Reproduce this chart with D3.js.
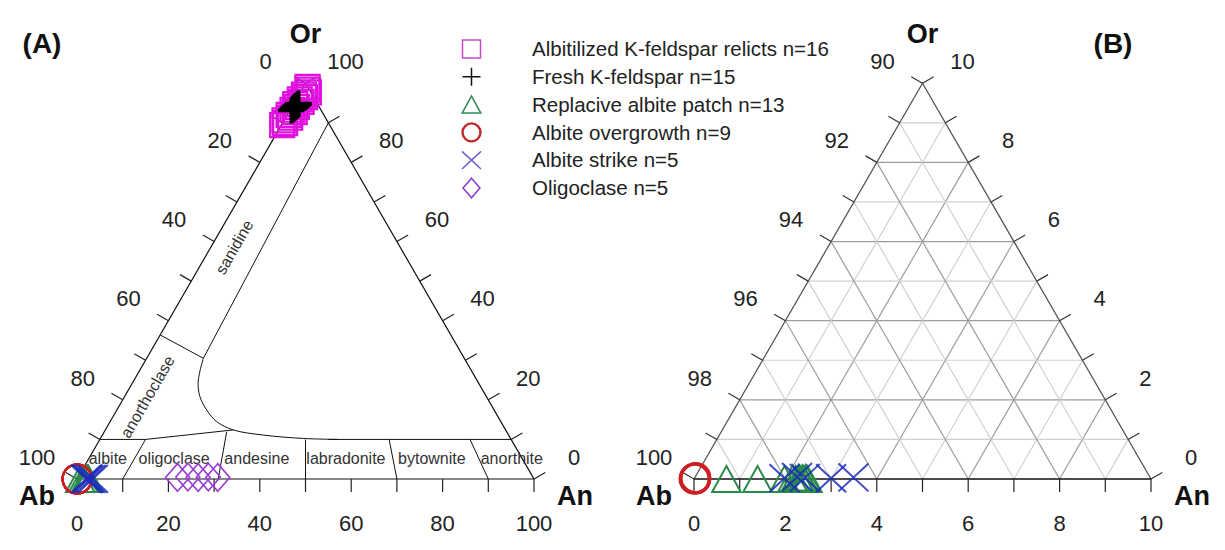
<!DOCTYPE html>
<html><head><meta charset="utf-8">
<script src="https://cdn.jsdelivr.net/npm/d3@7"></script>
<style>
body{margin:0;background:#fff}
svg{display:block}
text{font-family:"Liberation Sans",Arial,Helvetica,sans-serif}
</style>
</head><body>
<svg id="chart" width="1225" height="550"></svg>
<script>
// ---------------- DATA (ternary coordinates: [An, Or], Ab = 100 - An - Or) ----------------
const categories = [
  "Albitilized K-feldspar relicts n=16",
  "Fresh K-feldspar n=15",
  "Replacive albite patch n=13",
  "Albite overgrowth n=9",
  "Albite strike n=5",
  "Oligoclase n=5"
];
const kfsRelicts = [[0.2,89.4],[0.6,89.9],[0.1,90.6],[1.0,91.3],[0.3,92.0],[1.3,92.7],[0.5,93.3],[1.1,94.0],[0.4,94.7],[1.5,95.3],[0.8,95.9],[1.7,96.5],[1.1,97.1],[1.9,97.7],[1.3,98.4],[0.9,99.1]];
const freshKfs = [[0.3,93.1],[0.5,93.3],[0.4,93.5],[0.7,93.6],[0.5,93.8],[0.8,93.9],[0.6,94.0],[0.9,94.1],[0.7,94.2],[1.0,94.3],[0.8,94.4],[1.1,94.5],[0.9,94.6],[1.2,94.7],[1.0,94.9]];
const replaciveAlbite = [[0.71,0.0],[1.39,0.0],[1.98,0.0],[2.15,0.02],[2.22,0.0],[2.28,0.03],[2.32,0.0],[2.36,0.02],[2.40,0.0],[2.43,0.03],[2.46,0.0],[2.30,0.01],[2.48,0.0]];
const albiteOvergrowth = [[0.01,0.01],[0.02,0.0],[0.0,0.02],[0.03,0.01],[0.01,0.03],[0.02,0.02],[0.0,0.0],[0.04,0.0],[0.02,0.04]];
const albiteStrike = [[1.97,0.02],[2.23,0.05],[2.41,0.03],[2.99,0.02],[3.47,0.04]];
const oligoclase = [[21.8,0.4],[24.0,0.5],[26.3,0.4],[28.5,0.5],[30.6,0.4]];

const tickLabelsA = [0,20,40,60,80,100];
const leftTickLabelsA = [100,80,60,40,20,0];
const tickLabelsB = [0,2,4,6,8,10];
const leftTickLabelsB = [100,98,96,94,92,90];

// feldspar classification fields (panel A), ternary [An, Or]
const bandUpper = [[0,10],[10,10],[28,12.4]];
const bandRight = [[50,10],[90,10]];
const solvus = [[52,10],[44.4,10.25],[35.2,11.1],[28,12.4],[23.3,14.5],[19.7,17.4],[16.5,20.8],[14.4,24.2],[13.2,27.5],[12.4,30.5]];
const sanidineLine = [[12.4,30.5],[10,90]];
const sanAnorthLine = [[0,36.4],[12.4,30.5]];
const plagDividers = [[[10,0],[10,10]],[[30.9,0],[26.8,11.9]],[[50,0],[45,10]],[[70,0],[63.3,10]],[[90,0],[81,10]]];
const plagNames = ["albite","oligoclase","andesine","labradonite","bytownite","anorthite"];
const plagNameAn = [4.1,18.6,36.7,56.2,75.0,92.5];
const plagNameOr = [5.3,5.3,5.3,5.3,5.3,5.3];
const alkaliNames = ["sanidine","anorthoclase"];
const alkaliNameAn = [5.1,5.0];
const alkaliNameOr = [58.6,20.8];

// ---------------- LAYOUT ----------------
const svg = d3.select("#chart");
svg.append("rect").attr("width",1225).attr("height",550).attr("fill","#fff");
const S = Math.sqrt(3)/2;
const SIDE = 457, BASE_Y = 479;

function makePanel(x0, span){
  const sx = d3.scaleLinear().domain([0, span]).range([x0, x0 + SIDE]);
  const sy = d3.scaleLinear().domain([0, span*S]).range([BASE_Y, BASE_Y - SIDE*S]);
  return {span, sx, sy, p:(an,or)=>[sx(an + or/2), sy(or*S)]};
}
const PA = makePanel(77, 100);
const PB = makePanel(694, 10);

const line = d3.line();
const smooth = d3.line().curve(d3.curveCatmullRom.alpha(0.5));

function drawPath(g, pts, P, stroke, w, gen){
  g.append("path").attr("d",(gen||line)(pts.map(d=>P.p(d[0],d[1]))))
   .attr("fill","none").attr("stroke",stroke).attr("stroke-width",w);
}

// ---------------- MARKERS ----------------
const markerPath = {
  square: s=>`M${-s},${-s}H${s}V${s}H${-s}Z`,
  plus: s=>`M${-s},0H${s}M0,${-s}V${s}`,
  triangle: s=>`M0,${-s}L${s*1.1},${s}L${-s*1.1},${s}Z`,
  circle: s=>`M${s},0A${s},${s},0,1,1,${-s},0A${s},${s},0,1,1,${s},0Z`,
  times: s=>`M${-s},${-s*0.93}L${s},${s*0.93}M${s},${-s*0.93}L${-s},${s*0.93}`,
  diamond: s=>`M0,${-s*1.15}L${s},0L0,${s*1.15}L${-s},0Z`
};
const seriesList = [
  {data:kfsRelicts, shape:"square", size:12, color:"#e010e0", lcolor:"#c84ac8", w:2.2},
  {data:freshKfs, shape:"plus", size:13, color:"#000000", lcolor:"#111111", w:3.2},
  {data:replaciveAlbite, shape:"triangle", size:13, color:"#2a8a4a", lcolor:"#2e8b57", w:2},
  {data:albiteOvergrowth, shape:"circle", size:14.5, color:"#cc1f24", lcolor:"#c0282d", w:2},
  {data:albiteStrike, shape:"times", size:15, color:"#1c2cbc", lcolor:"#6a62c8", w:2},
  {data:oligoclase, shape:"diamond", size:12, color:"#9a3ad6", lcolor:"#8a3ad0", w:1.6}
];

function drawMarkers(g, P){
  seriesList.forEach(s=>{
    const pts = s.data.filter(d=>d[0]+d[1] <= P.span + 1e-9);
    g.append("g").selectAll("path").data(pts).join("path")
      .attr("transform",d=>{const q=P.p(d[0],d[1]);return `translate(${q[0]},${q[1]})`;})
      .attr("d",markerPath[s.shape](s.size))
      .attr("fill","none").attr("stroke",s.color).attr("stroke-width",s.w)
      .attr("stroke-opacity", s.shape==="times"?0.85:1);
  });
}

// ---------------- AXES / TICKS ----------------
const TL = 13;
function drawAxes(g, P, bottomLabels, leftLabels, rightLabels, edgeColor){
  const span = P.span, step = span/10;
  const vals = d3.range(0, span + step/2, step).map(v=>+v.toFixed(6));
  const tg = g.append("g").attr("stroke","#222").attr("stroke-width",1.2);
  const lg = g.append("g").attr("font-size",22).attr("fill","#222").attr("text-anchor","middle");
  vals.forEach(v=>{
    let q = P.p(v,0);
    tg.append("line").attr("x1",q[0]).attr("y1",q[1]).attr("x2",q[0]).attr("y2",q[1]+TL);
    if(bottomLabels.includes(Math.round(v*1000)/1000))
      lg.append("text").attr("x",q[0]).attr("y",q[1]+44).attr("dy","0.35em").text(v);
    q = P.p(0,v);
    tg.append("line").attr("x1",q[0]).attr("y1",q[1]).attr("x2",q[0]-TL*S).attr("y2",q[1]-TL*0.5).attr("stroke",edgeColor);
    const ab = Math.round((100 - v)*1000)/1000;
    if(leftLabels.includes(ab))
      lg.append("text").attr("x",q[0]-40).attr("y",q[1]-22).attr("dy","0.35em").text(ab);
    q = P.p(span - v, v);
    tg.append("line").attr("x1",q[0]).attr("y1",q[1]).attr("x2",q[0]+TL*S).attr("y2",q[1]-TL*0.5).attr("stroke",edgeColor);
    if(rightLabels.includes(Math.round(v*1000)/1000))
      lg.append("text").attr("x",q[0]+40).attr("y",q[1]-22).attr("dy","0.35em").text(v);
  });
}

function drawTitles(g, P, tag, tagX){
  const apex = P.p(0, P.span), ab = P.p(0,0), an = P.p(P.span,0);
  const t = g.append("g").attr("font-weight","bold").attr("fill","#111").attr("text-anchor","middle");
  t.append("text").attr("x",apex[0]).attr("y",34).attr("dy","0.35em").attr("font-size",27).text("Or");
  t.append("text").attr("x",ab[0]-40).attr("y",496).attr("dy","0.35em").attr("font-size",27).text("Ab");
  t.append("text").attr("x",an[0]+41).attr("y",496).attr("dy","0.35em").attr("font-size",27).text("An");
  t.append("text").attr("x",tagX).attr("y",43).attr("dy","0.35em").attr("font-size",28).text(tag);
}

// ---------------- PANEL A ----------------
const gA = svg.append("g");
{
  const P = PA;
  drawPath(gA, bandUpper, P, "#111", 1);
  drawPath(gA, bandRight, P, "#111", 1);
  drawPath(gA, solvus, P, "#111", 1, smooth);
  drawPath(gA, sanidineLine, P, "#111", 1);
  drawPath(gA, sanAnorthLine, P, "#111", 1);
  plagDividers.forEach(d=>drawPath(gA, d, P, "#111", 1));
  drawPath(gA, [[0,0],[100,0],[0,100],[0,0]], P, "#111", 1.2);
  const fg = gA.append("g").attr("font-size",16).attr("fill","#333").attr("text-anchor","middle");
  plagNames.forEach((n,i)=>{
    const q = P.p(plagNameAn[i], plagNameOr[i]);
    fg.append("text").attr("x",q[0]).attr("y",q[1]).attr("dy","0.35em").text(n);
  });
  alkaliNames.forEach((n,i)=>{
    const q = P.p(alkaliNameAn[i], alkaliNameOr[i]);
    fg.append("text").attr("transform",`translate(${q[0]},${q[1]}) rotate(-60)`).attr("dy","0.35em").text(n);
  });
  drawAxes(gA, P, tickLabelsA, leftTickLabelsA, tickLabelsA, "#222");
  drawMarkers(gA, P);
  drawTitles(gA, P, "(A)", 42);
}

// ---------------- PANEL B ----------------
const gB = svg.append("g");
{
  const P = PB;
  for(let k=1;k<10;k++){
    const c = k%2===0 ? "#9c9c9c" : "#d0d0d0";
    drawPath(gB, [[0,k],[10-k,k]], P, c, 1.2);
    drawPath(gB, [[k,0],[k,10-k]], P, c, 1.2);
    drawPath(gB, [[k,0],[0,k]], P, c, 1.2);
  }
  drawPath(gB, [[0,0],[0,10],[10,0]], P, "#555", 1.3);
  drawPath(gB, [[0,0],[10,0]], P, "#111", 1.5);
  drawAxes(gB, P, tickLabelsB, leftTickLabelsB, tickLabelsB, "#333");
  drawMarkers(gB, P);
  drawTitles(gB, P, "(B)", 1113);
}

// ---------------- LEGEND ----------------
const leg = svg.append("g");
categories.forEach((c,i)=>{
  const y = 49 + i*27.8, s = seriesList[i];
  const ms = {square:9, plus:9, triangle:8.5, circle:9, times:9.5, diamond:8.5}[s.shape];
  leg.append("path").attr("transform",`translate(471.5,${y})`).attr("d",markerPath[s.shape](ms))
    .attr("fill","none").attr("stroke",s.lcolor).attr("stroke-width",s.shape==="circle"?2.4:1.5);
  leg.append("text").attr("x",532).attr("y",y).attr("dy","0.35em").attr("font-size",20.5).attr("fill","#222").text(c);
});
</script>
</body></html>
